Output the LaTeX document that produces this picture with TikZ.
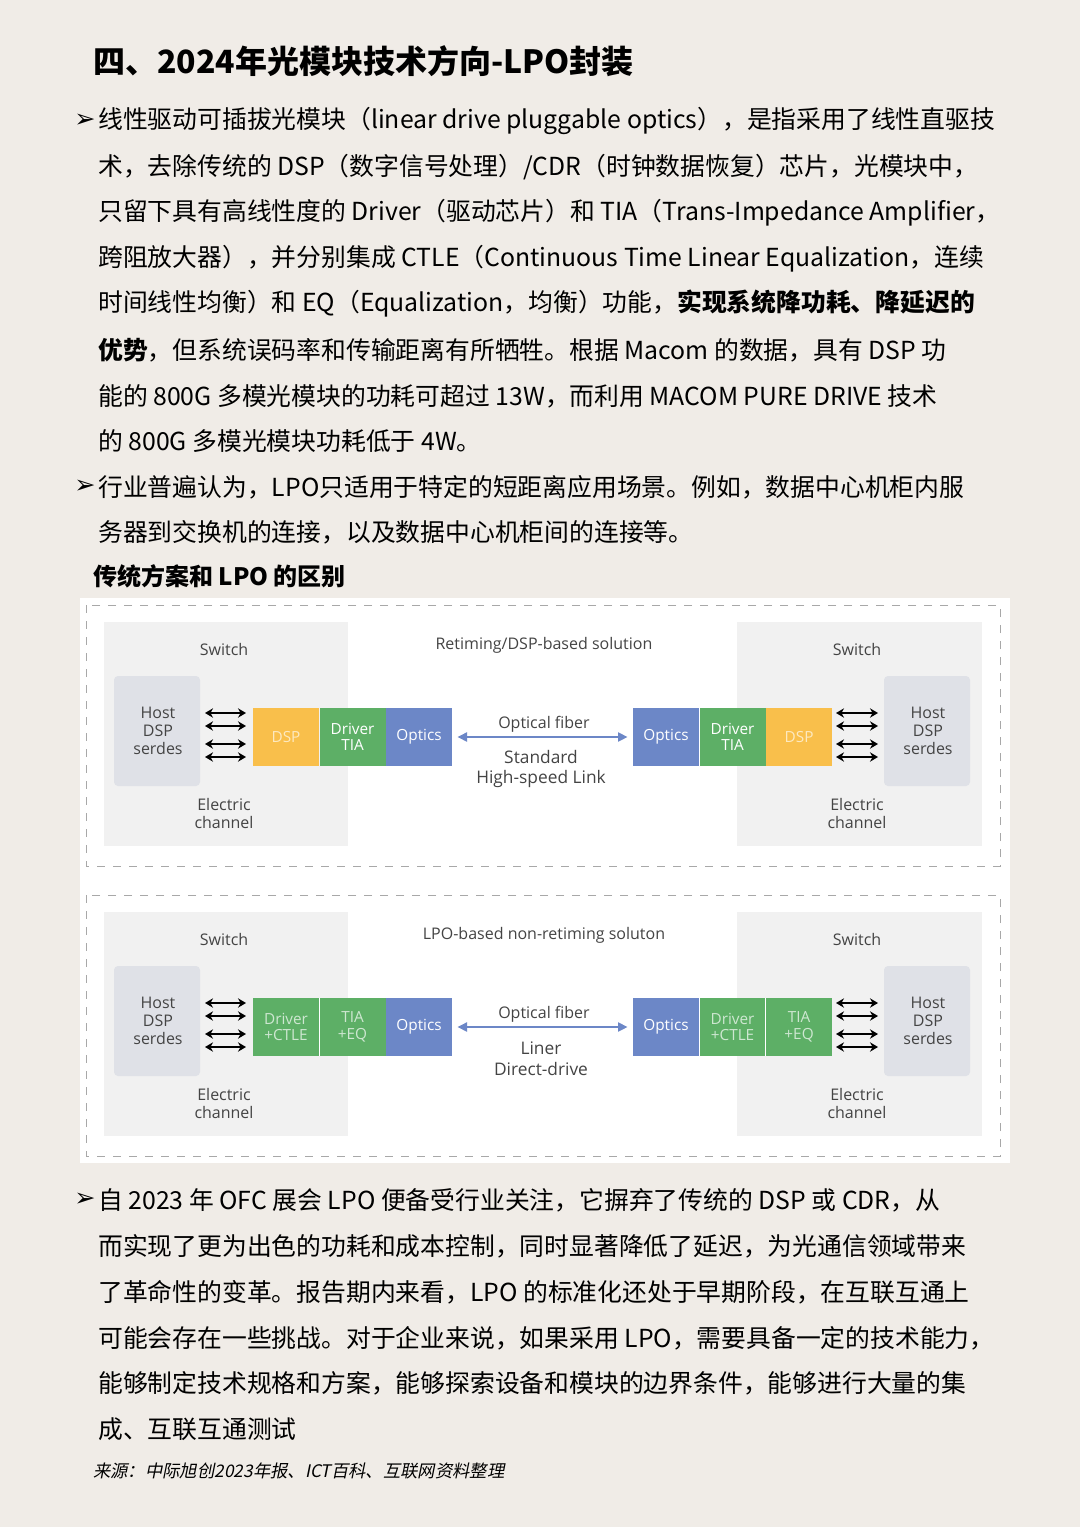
\documentclass[tikz,border=0pt]{standalone}
\usepackage{fontspec}
\setmainfont{Noto Sans CJK SC}
\newfontfamily\diagfont{Open Sans}
\newfontfamily\symfont{DejaVu Sans}
\newfontfamily\slantfont[FakeSlant=0.2]{Noto Sans CJK SC}
\usetikzlibrary{positioning,arrows.meta}
\definecolor{pagebg}{HTML}{F0ECE7}
\definecolor{swgray}{HTML}{F1F1F1}
\definecolor{hostgray}{HTML}{DFE1E7}
\definecolor{dsporange}{HTML}{F9BF4B}
\definecolor{drvgreen}{HTML}{5DAF66}
\definecolor{optblue}{HTML}{6C87C7}
\definecolor{dashgray}{HTML}{A8A8A8}
\definecolor{txtgray}{HTML}{444444}
\tikzset{
  bodyline/.style={anchor=west,inner sep=0pt,font=\fontsize{18.6}{19}\selectfont},
  bullet/.style={anchor=west,inner sep=0pt,font=\symfont\fontsize{19}{19}\selectfont},
  dlabel/.style={font=\diagfont\fontsize{12}{13.5}\selectfont,text=txtgray,align=center},
  block/.style={minimum width=49.5pt,minimum height=43.5pt,inner sep=0pt,
    font=\diagfont\fontsize{11.5}{12.5}\selectfont,align=center},
  sarrow/.style={{Stealth[length=6pt,width=7pt]}-{Stealth[length=6pt,width=7pt]},line width=1.3pt},
  farrow/.style={{Triangle[length=7pt,width=7pt]}-{Triangle[length=7pt,width=7pt]},optblue,line width=0.8pt}
}
% one panel of the comparison: offset, prefix, title, link text; blocks from \blkA.. \blkF
\newcommand\lpopanel[4]{%
  \begin{scope}[yshift=#1]
  \draw[dashgray,dashed,dash pattern=on 6pt off 6pt] (86,605) rectangle (1000,866);
  \fill[swgray] (104,622) rectangle (348,846);
  \fill[swgray] (737,622) rectangle (982,846);
  \fill[hostgray,rounded corners=3pt] (114,676) rectangle (200,786);
  \fill[hostgray,rounded corners=3pt] (884,676) rectangle (970,786);
  \node[dlabel] (#2swl) at (224,649) {Switch};
  \node[dlabel] (#2swr) at (857,649) {Switch};
  \node[dlabel] (#2title) at (544,645) {#3};
  \node[dlabel] (#2hostl) at (158,731) {Host\\DSP\\serdes};
  \node[dlabel] (#2hostr) at (928,731) {Host\\DSP\\serdes};
  \node[dlabel] (#2ecl) at (224,813) {Electric\\channel};
  \node[dlabel] (#2ecr) at (857,813) {Electric\\channel};
  \node[block,blkA] (#2a) at (286,737) {\txtA};
  \node[block,blkB,right=0pt of #2a] (#2b) {\txtB};
  \node[block,fill=optblue,text=white,right=0pt of #2b] (#2c) {Optics};
  \node[block,fill=optblue,text=white] (#2d) at (666,737) {Optics};
  \node[block,blkE,right=0pt of #2d] (#2e) {\txtE};
  \node[block,blkF,right=0pt of #2e] (#2f) {\txtF};
  \foreach \yy in {713,726,744,757} {
    \draw[sarrow] (205,\yy) -- (246,\yy);
    \draw[sarrow] (836,\yy) -- (878,\yy);
  }
  \draw[farrow] ([xshift=4pt]#2c.east) -- ([xshift=-4pt]#2d.west);
  \node[dlabel] (#2fiber) at (544,724) {Optical fiber};
  \node[dlabel,font=\diagfont\fontsize{13}{15.5}\selectfont] (#2link) at (541,769) {#4};
  \end{scope}}
\begin{document}
\begin{tikzpicture}[x=0.75pt,y=-0.75pt]
\fill[pagebg] (0,0) rectangle (1080,1527);
\node[anchor=west,inner sep=0pt,font=\fontsize{24}{24}\selectfont\bfseries] (title) at (93,61) {四、2024年光模块技术方向-LPO封装};
% first paragraph
\node[bullet] (b1) at (74,121) {➢};
\node[bodyline] (p1) at (98,121) {线性驱动可插拔光模块（linear drive pluggable optics），是指采用了线性直驱技};
\node[bodyline] (p2) at (98,167) {术，去除传统的 DSP（数字信号处理）/CDR（时钟数据恢复）芯片，光模块中，};
\node[bodyline] (p3) at (98,213) {只留下具有高线性度的 Driver（驱动芯片）和 TIA（Trans-Impedance Amplifier，};
\node[bodyline] (p4) at (98,259) {跨阻放大器），并分别集成 CTLE（Continuous Time Linear Equalization，连续};
\node[bodyline] (p5) at (98,304) {时间线性均衡）和 EQ（Equalization，均衡）功能，\textbf{实现系统降功耗、降延迟的}};
\node[bodyline] (p6) at (98,350) {\textbf{优势}，但系统误码率和传输距离有所牺牲。根据 Macom 的数据，具有 DSP 功};
\node[bodyline] (p7) at (98,396) {能的 800G 多模光模块的功耗可超过 13W，而利用 MACOM PURE DRIVE 技术};
\node[bodyline] (p8) at (98,441) {的 800G 多模光模块功耗低于 4W。};
% second paragraph
\node[bullet] (b2) at (74,487) {➢};
\node[bodyline] (q1) at (98,487) {行业普遍认为，LPO只适用于特定的短距离应用场景。例如，数据中心机柜内服};
\node[bodyline] (q2) at (98,532) {务器到交换机的连接，以及数据中心机柜间的连接等。};
\node[anchor=west,inner sep=0pt,font=\fontsize{18}{18}\selectfont\bfseries] (sub) at (93,576) {传统方案和 LPO 的区别};
% diagram
\fill[white] (80,598) rectangle (1010,1163);
\tikzset{blkA/.style={fill=dsporange,text=white!65!dsporange},blkB/.style={fill=drvgreen,text=white},
  blkE/.style={fill=drvgreen,text=white},blkF/.style={fill=dsporange,text=white!65!dsporange}}
\def\txtA{DSP}\def\txtB{Driver\\TIA}\def\txtE{Driver\\TIA}\def\txtF{DSP}
\lpopanel{0}{t}{Retiming/DSP-based solution}{Standard\\High-speed Link}
\tikzset{blkA/.style={fill=drvgreen,text=white!70!drvgreen},blkB/.style={fill=drvgreen,text=white!70!drvgreen},
  blkE/.style={fill=drvgreen,text=white!70!drvgreen},blkF/.style={fill=drvgreen,text=white!70!drvgreen}}
\def\txtA{Driver\\+CTLE}\def\txtB{TIA\\+EQ}\def\txtE{Driver\\+CTLE}\def\txtF{TIA\\+EQ}
\lpopanel{-290*0.75}{l}{LPO-based non-retiming soluton}{Liner\\Direct-drive}
\draw[white,line width=0.6pt] (lb.north west) -- (lb.south west) (le.north east) -- (le.south east);
% third paragraph
\node[bullet] (b3) at (74,1200) {➢};
\node[bodyline] (r1) at (98,1200) {自 2023 年 OFC 展会 LPO 便备受行业关注，它摒弃了传统的 DSP 或 CDR，从};
\node[bodyline] (r2) at (98,1246) {而实现了更为出色的功耗和成本控制，同时显著降低了延迟，为光通信领域带来};
\node[bodyline] (r3) at (98,1292) {了革命性的变革。报告期内来看，LPO 的标准化还处于早期阶段，在互联互通上};
\node[bodyline] (r4) at (98,1338) {可能会存在一些挑战。对于企业来说，如果采用 LPO，需要具备一定的技术能力，};
\node[bodyline] (r5) at (98,1383) {能够制定技术规格和方案，能够探索设备和模块的边界条件，能够进行大量的集};
\node[bodyline] (r6) at (98,1429) {成、互联互通测试};
\node[anchor=west,inner sep=0pt,font=\slantfont\fontsize{13}{13}\selectfont] (src) at (93,1471) {来源：中际旭创2023年报、ICT百科、互联网资料整理};
\end{tikzpicture}
\end{document}
